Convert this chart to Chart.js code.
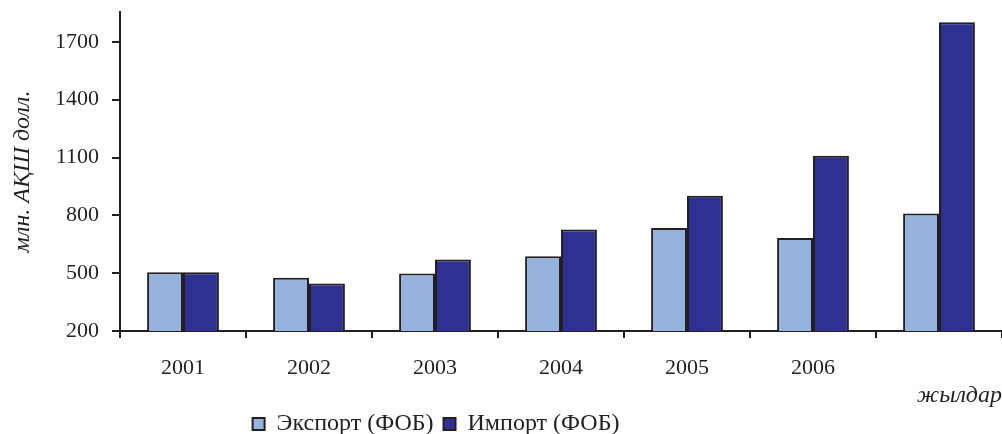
<!DOCTYPE html>
<html>
<head>
<meta charset="utf-8">
<script src="https://cdn.jsdelivr.net/npm/chart.js@4"></script>
<style>
  html, body { margin: 0; padding: 0; background: #fff; }
  #wrap { width: 1002px; height: 434px; }
</style>
</head>
<body>
<div id="wrap"><canvas id="tradeChart" width="1002" height="434"></canvas></div>
<script>
// Сыртқы сауда: экспорт пен импорт (млн. АҚШ долл.)
const years      = ['2001', '2002', '2003', '2004', '2005', '2006', ''];
const exportVals = [505, 476, 498, 588, 735, 683, 809];
const importVals = [505, 447, 571, 726, 902, 1109, 1802];
const yTicks     = [200, 500, 800, 1100, 1400, 1700];

const AXIS = '#231f20';
const SERIF = "'Liberation Serif', 'Times New Roman', serif";

// легенданы сәл солға және жоғары жылжыту
const legendShift = {
  id: 'legendShift',
  afterLayout(chart) {
    const lg = chart.legend;
    if (!lg) return;
    const dx = -65, dy = -8;
    lg.left += dx; lg.right += dx;
    lg.top += dy; lg.bottom += dy;
  }
};

new Chart(document.getElementById('tradeChart'), {
  type: 'bar',
  data: {
    labels: years,
    datasets: [
      {
        label: 'Экспорт (ФОБ)',
        data: exportVals,
        backgroundColor: '#95b3dc',
        borderColor: AXIS,
        borderWidth: 2
      },
      {
        label: 'Импорт (ФОБ)',
        data: importVals,
        backgroundColor: '#2e3192',
        borderColor: AXIS,
        borderWidth: 2
      }
    ]
  },
  options: {
    responsive: false,
    animation: false,
    layout: { padding: { top: 0, right: 0, left: 0, bottom: -20 } },
    datasets: { bar: { categoryPercentage: 0.57, barPercentage: 1.0 } },
    plugins: {
      legend: {
        position: 'bottom',
        labels: {
          color: '#231f20',
          font: { family: SERIF, size: 24 },
          boxWidth: 12,
          boxHeight: 12,
          padding: 10
        }
      },
      tooltip: { enabled: false }
    },
    scales: {
      x: {
        afterFit(scale) { scale.height = 79; },
        grid: {
          display: true,
          drawOnChartArea: false,
          color: AXIS,
          lineWidth: 2,
          tickLength: 7
        },
        border: { display: true, color: AXIS, width: 2 },
        ticks: {
          color: '#231f20',
          font: { family: SERIF, size: 22 },
          padding: 17,
          maxRotation: 0
        },
        title: {
          display: true,
          text: 'жылдар',
          align: 'end',
          color: '#231f20',
          font: { family: SERIF, size: 24, style: 'italic' },
          padding: { top: 0, bottom: 0 }
        }
      },
      y: {
        min: 200,
        max: 1855,
        afterFit(scale) {
          scale.width = 120;
          scale.paddingTop = 12;
          scale.paddingBottom = 0;
        },
        afterBuildTicks(scale) { scale.ticks = yTicks.map(v => ({ value: v })); },
        grid: {
          display: true,
          drawOnChartArea: false,
          color: AXIS,
          lineWidth: 2,
          tickLength: 8
        },
        border: { display: true, color: AXIS, width: 2 },
        ticks: {
          color: '#231f20',
          font: { family: SERIF, size: 22 },
          padding: 13,
          callback: v => String(v)
        },
        title: {
          display: true,
          text: 'млн. АҚШ долл.',
          color: '#231f20',
          font: { family: SERIF, size: 24, style: 'italic' },
          padding: { top: 8, bottom: 0 }
        }
      }
    }
  },
  plugins: [legendShift]
});
</script>
</body>
</html>
